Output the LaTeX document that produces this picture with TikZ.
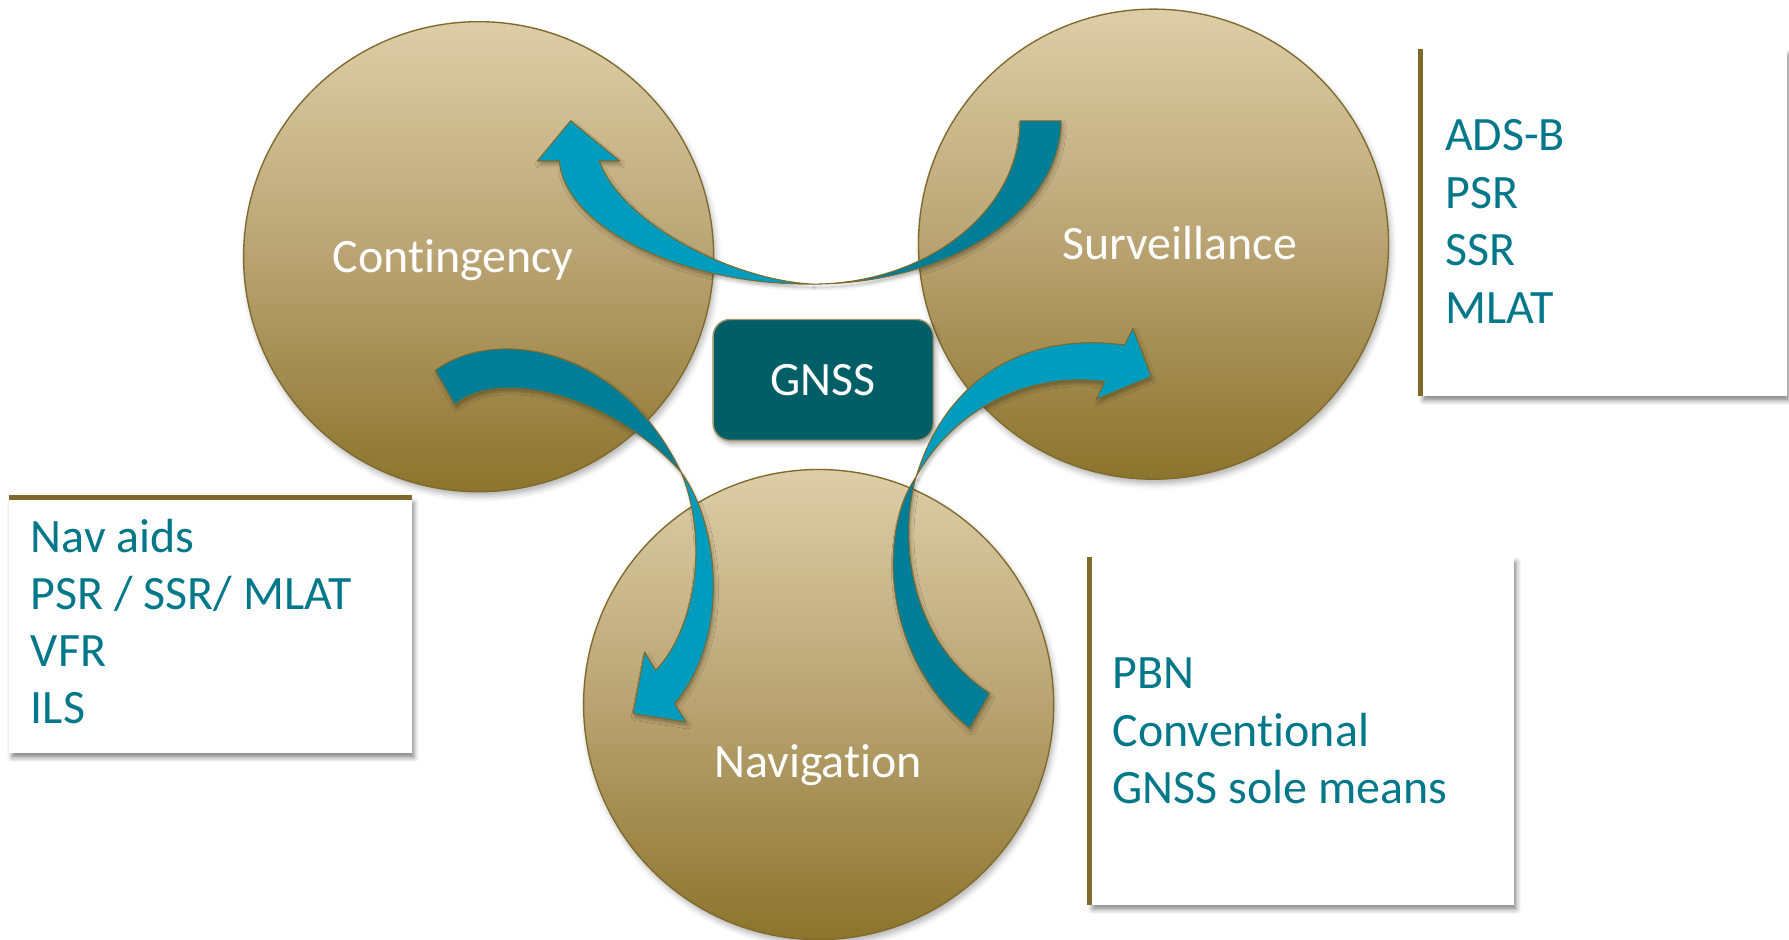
\documentclass[tikz,border=0pt]{standalone}
\usepackage{fontspec}
\setmainfont{Carlito}[Ligatures=NoCommon]
\usetikzlibrary{shadows.blur}
\definecolor{ctop}{HTML}{DDCEA8}
\definecolor{cmid}{HTML}{B9A372}
\definecolor{cbot}{HTML}{8B742C}
\definecolor{olive}{HTML}{7F6A2B}
\definecolor{tealtext}{HTML}{00788A}
\definecolor{alight}{HTML}{009CBD}
\definecolor{adark}{HTML}{007E97}
\definecolor{gnssfill}{HTML}{005F66}
\newcommand\dfont{\fontsize{42}{50.6}\selectfont}
\begin{document}
\begin{tikzpicture}[x=1pt,y=-1pt,
  bigcircle/.style={circle, draw=olive, line width=1.2pt, minimum size=412pt, inner sep=0pt,
    top color=ctop, bottom color=cbot, middle color=cmid,
    blur shadow={shadow xshift=2pt, shadow yshift=-4pt, shadow blur radius=5pt, shadow opacity=30}},
  circlelabel/.style={anchor=base, inner sep=0pt, text=white, font=\dfont},
  gnssbox/.style={rectangle, rounded corners=15pt, fill=gnssfill, draw=olive!70!white, line width=1.2pt,
    minimum width=193pt, minimum height=106pt, inner sep=0pt, text=white, font=\dfont,
    blur shadow={shadow xshift=2pt, shadow yshift=-3pt, shadow blur radius=4pt, shadow opacity=35}},
  infobox/.style={rectangle, fill=white, draw=none, inner sep=0pt, anchor=north west,
    blur shadow={shadow xshift=2pt, shadow yshift=-4pt, shadow blur radius=4pt, shadow opacity=45}},
  boxrule/.style={draw=olive, line width=4.5pt},
  itemtext/.style={anchor=base west, inner sep=0pt, text=tealtext, font=\dfont},
  arrowlight/.style={fill=alight, draw=olive, line width=0.9pt, line join=round},
  arrowdark/.style={fill=adark, draw=olive, line width=0.9pt, line join=round},
  ashadow/.style={blur shadow={shadow xshift=1.5pt, shadow yshift=-3pt, shadow blur radius=3pt, shadow opacity=30}}
]
\useasboundingbox (0,0) rectangle (1568,823);

% circles
\node[bigcircle] (cont) at (419.5,225) {};
\node[bigcircle] (surv) at (1011,214) {};
\node[bigcircle] (nav) at (717.5,617.5) {};

\node[circlelabel] (contlbl) at (397,239) {Contingency};
\node[circlelabel] (survlbl) at (1034,227) {Surveillance};
\node[circlelabel] (navlbl) at (717,681) {Navigation};

% GNSS box
\node[gnssbox] (gnss) at (721.5,333) {GNSS};

% Arrow 1 (Surveillance -> Contingency)
\path[arrowdark, ashadow] (894,106) .. controls (894,185) and (812,249) .. (712,249)
  .. controls (832,249) and (930,185) .. (930,106) -- cycle;
\path[arrowlight, ashadow] (712,249) .. controls (600,250) and (495,200) .. (490.2,141.1)
  -- (470.9,141.1) -- (500.2,105.8) -- (543.4,141.1) -- (525.3,141.1)
  .. controls (545,195) and (640,245) .. (712,249) -- cycle;

% Arrow 2 (Contingency -> Navigation)
\path[arrowdark, ashadow] (381.5,324.6) .. controls (435,285) and (545,305) .. (597,414)
  .. controls (540,350) and (440,320) .. (398.5,354.7) -- cycle;
\path[arrowlight, ashadow] (597,414) .. controls (628,455) and (643,555) .. (591.3,616.7)
  -- (601.5,632.8) -- (554.8,625.5) -- (565,571.4) -- (574.7,587.5)
  .. controls (612,548) and (620,470) .. (597,414) -- cycle;

% Arrow 3 (Navigation -> Surveillance)
\path[arrowdark, ashadow] (803,417.8) .. controls (770,465) and (772,575) .. (849.8,638.4)
  -- (867.4,607.6) .. controls (795,560) and (788,470) .. (803,417.8) -- cycle;
\path[arrowlight, ashadow] (803,417.8) .. controls (828,335) and (895,290) .. (985.7,302.4)
  -- (993,287.7) -- (1009,330) -- (960.8,350) -- (968.2,334.5)
  .. controls (900,325) and (835,360) .. (803,417.8) -- cycle;

% Surveillance info box
\node[infobox, minimum width=321pt, minimum height=304pt] (sbox) at (1245,43) {};
\draw[boxrule] (sbox.north west) -- (sbox.south west);
\node[itemtext] (s1) at (1266.5,131.5) {ADS-B};
\node[itemtext] (s2) at (1266.5,182.6) {PSR};
\node[itemtext] (s3) at (1266.5,232.8) {SSR};
\node[itemtext] (s4) at (1266.5,283.4) {MLAT};

% Contingency info box
\node[infobox, minimum width=353pt, minimum height=224pt] (cbox) at (8,436) {};
\draw[boxrule] (cbox.north west) -- (cbox.north east);
\node[itemtext] (c1) at (26.9,484.4) {Nav aids};
\node[itemtext] (c2) at (26.9,534) {PSR / SSR/ MLAT};
\node[itemtext] (c3) at (26.9,584.3) {VFR};
\node[itemtext] (c4) at (26.9,634.5) {ILS};

% Navigation info box
\node[infobox, minimum width=372pt, minimum height=305pt] (nbox) at (955,488) {};
\draw[boxrule] (nbox.north west) -- (nbox.south west);
\node[itemtext] (n1) at (975,603.5) {PBN};
\node[itemtext] (n2) at (975,654) {Conventional};
\node[itemtext] (n3) at (975,704.5) {GNSS sole means};
\end{tikzpicture}
\end{document}
